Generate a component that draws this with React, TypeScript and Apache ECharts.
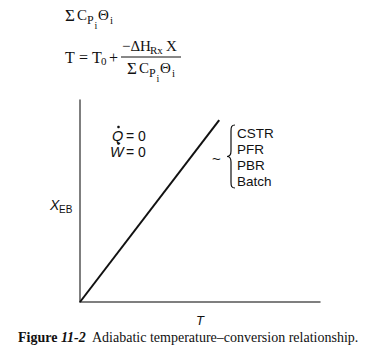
import React, { useEffect, useRef } from "react";
import * as echarts from "echarts";

// Data
const tempValues = [0, 58];
const conversionValues = [0, 90];
const reactorTypes = ["CSTR", "PFR", "PBR", "Batch"];

const braceD =
  "M8,0 C4.5,0 4,2 4,6 L4,26 C4,29.5 3,31.5 0,31.5 C3,31.5 4,33.5 4,37 L4,57 C4,61 4.5,63 8,63";
echarts.graphic.registerShape("brace", echarts.graphic.extendPath(braceD, {}) as any);

const SERIF = "'Liberation Serif', 'DejaVu Serif', serif";
const SANS = "'Liberation Sans', Arial, sans-serif";

function t(text: string, x: number, y: number, size: number, extra: any = {}) {
  return {
    type: "text",
    x,
    y,
    style: {
      text,
      fontFamily: extra.fontFamily || SERIF,
      fontSize: size,
      fontStyle: extra.fontStyle || "normal",
      fontWeight: extra.fontWeight || "normal",
      fill: "#111",
      textAlign: extra.align || "left",
      textVerticalAlign: "middle",
    },
    silent: true,
  };
}

function sumCpTheta(x0: number, y0: number) {
  return [
    t("Σ", x0, y0, 17),
    t("C", x0 + 12, y0, 15),
    t("P", x0 + 22, y0 + 5, 12),
    t("i", x0 + 29.5, y0 + 10, 10),
    t("Θ", x0 + 33, y0, 15),
    t("i", x0 + 45, y0 + 5, 11),
  ];
}

export default function App() {
  const ref = useRef<HTMLDivElement>(null);
  useEffect(() => {
    if (!ref.current) return;
    const chart = echarts.init(ref.current, null, { renderer: "svg" });
    const data = tempValues.map((v, i) => [v, conversionValues[i]]);
    const legendGraphics = reactorTypes.map((name, i) =>
      t(name, 237, 133 + i * 16, 13.5, { fontFamily: SANS })
    );
    chart.setOption({
      animation: false,
      backgroundColor: "#fff",
      grid: { left: 80, top: 100, right: 45, bottom: 55 },
      xAxis: {
        type: "value",
        min: 0,
        max: 100,
        axisLine: { show: true, lineStyle: { color: "#555", width: 1.5 } },
        axisTick: { show: false },
        axisLabel: { show: false },
        splitLine: { show: false },
        name: "T",
        nameLocation: "middle",
        nameGap: 12,
        nameTextStyle: { fontFamily: SANS, fontStyle: "italic", fontSize: 13, color: "#111" },
      },
      yAxis: {
        type: "value",
        min: 0,
        max: 100,
        axisLine: { show: true, lineStyle: { color: "#555", width: 1.5 } },
        axisTick: { show: false },
        axisLabel: { show: false },
        splitLine: { show: false },
      },
      series: [
        {
          type: "line",
          data,
          symbol: "none",
          lineStyle: { color: "#111", width: 2 },
        },
      ],
      graphic: [
        ...sumCpTheta(65, 15),
        t("T", 65, 57, 16),
        t("=", 79, 57, 16),
        t("T", 92, 57, 16),
        t("0", 101, 61, 11),
        t("+", 109, 57, 16),
        t("−ΔH", 122, 46, 15),
        t("Rx", 150, 50, 11),
        t("X", 166, 46, 15),
        {
          type: "line",
          shape: { x1: 121, y1: 57, x2: 181, y2: 57 },
          style: { stroke: "#111", lineWidth: 1 },
          silent: true,
        },
        ...sumCpTheta(127, 68),
        // Q dot = 0, W dot = 0
        t("Q", 112, 136, 14.5, { fontFamily: SANS, fontStyle: "italic" }),
        t("= 0", 126, 136, 14, { fontFamily: SANS }),
        t("W", 110, 152, 14.5, { fontFamily: SANS, fontStyle: "italic" }),
        t("= 0", 126, 152, 14, { fontFamily: SANS }),
        { type: "circle", shape: { cx: 118.5, cy: 127, r: 1.3 }, style: { fill: "#111" }, silent: true },
        { type: "circle", shape: { cx: 118.5, cy: 143.5, r: 1.3 }, style: { fill: "#111" }, silent: true },
        // brace and tilde
        t("~", 212, 158, 15, { fontFamily: SANS }),
        {
          type: "brace",
          x: 227,
          y: 125,
          style: { stroke: "#111", fill: "none", lineWidth: 1.2 },
          silent: true,
        },
        ...legendGraphics,
        // y axis label
        t("X", 50, 205, 14, { fontFamily: SANS, fontStyle: "italic" }),
        t("EB", 59, 209, 10, { fontFamily: SANS }),
        // caption
        {
          type: "text",
          x: 18,
          y: 337,
          style: {
            text: "{b|Figure} {bi|11-2}  Adiabatic temperature–conversion relationship.",
            fontFamily: SERIF,
            fontSize: 14,
            fill: "#111",
            textVerticalAlign: "middle",
            rich: {
              b: { fontFamily: SERIF, fontSize: 14, fontWeight: "bold", fill: "#111" },
              bi: { fontFamily: SERIF, fontSize: 14, fontWeight: "bold", fontStyle: "italic", fill: "#111" },
            },
          },
          silent: true,
        },
      ],
    });
    return () => chart.dispose();
  }, []);
  return (
    <div
      ref={ref}
      style={{ position: "fixed", left: 0, top: 0, width: 365, height: 357 }}
    />
  );
}
